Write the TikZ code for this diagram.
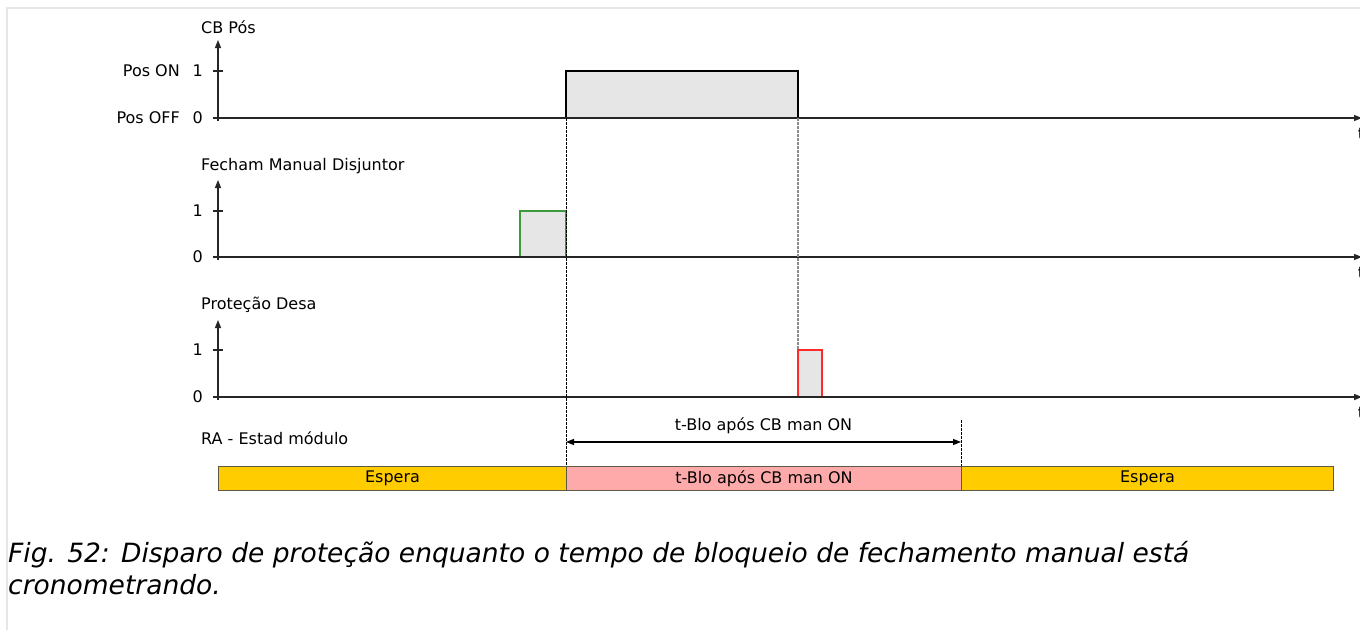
\documentclass[tikz,border=0pt]{standalone}
\usepackage{fontspec}
\setmainfont{DejaVu Sans}
\newfontfamily\capfont{DejaVu Sans Oblique}
\usetikzlibrary{arrows.meta}
\definecolor{frame}{HTML}{E6E6E6}
\definecolor{pulse}{HTML}{E6E6E6}
\definecolor{gpulse}{HTML}{3C9A3C}
\definecolor{rpulse}{HTML}{FF2A2A}
\definecolor{espera}{HTML}{FFCC00}
\definecolor{blo}{HTML}{FFAAAA}
\definecolor{barline}{HTML}{5F5A45}
\tikzset{
  axis/.style={draw=black!85, line width=1.3pt, -{Triangle[length=8pt,width=6pt]}},
  tick/.style={draw=black!85, line width=1.2pt},
  lbl/.style={font=\fontsize{16}{19}\selectfont, inner sep=0pt},
  sig/.style={lbl, anchor=west},
  guide/.style={draw=black, line width=0.8pt, dash pattern=on 2.5pt off 1.5pt},
  guidegray/.style={draw=black!45, line width=1.2pt, dash pattern=on 2.5pt off 1.5pt},
  statebar/.style={draw=barline, line width=1pt},
  dim/.style={draw=black, line width=1.2pt, {Triangle[length=8pt,width=6pt]}-{Triangle[length=8pt,width=6pt]}},
  captext/.style={anchor=base west, inner sep=0pt, font=\capfont\fontsize{26.5}{31}\selectfont},
}
\begin{document}
\begin{tikzpicture}[x=1pt,y=-1pt]
\useasboundingbox (0,0) rectangle (1360,630);
\fill[white] (0,0) rectangle (1360,630);
% frame
\draw[frame, line width=2pt] (7,630) -- (7,8) -- (1360,8);

% ---------- CB Pos ----------
\fill[pulse] (566,71) rectangle (798,118);
\draw[black, line width=1.2pt] (566,118) -- (566,71) -- (798,71) -- (798,118);
\coordinate (a1o) at (218,121);
\coordinate (a1t) at (218,40);
\coordinate (h1o) at (213,118);
\coordinate (h1e) at (1362,118);
\draw[axis] (a1o) -- (a1t);
\draw[axis] (h1o) -- (h1e);
\draw[tick] (213,71) -- (223,71);
\node[sig] (s1) at (201,27) {CB Pós};
\node[lbl, anchor=east] (p1) at (203,71) {1};
\node[lbl, anchor=east] (p0) at (203,118) {0};
\node[lbl, anchor=east] (pon) at (180,71) {Pos ON};
\node[lbl, anchor=east] (poff) at (180,118) {Pos OFF};
\node[lbl] (t1) at (1361,134) {t};

% ---------- Fecham Manual ----------
\fill[pulse] (520,211) rectangle (566,257);
\draw[gpulse, line width=1.2pt] (520,257) -- (520,211) -- (566,211) -- (566,257);
\coordinate (a2o) at (218,260);
\coordinate (a2t) at (218,180);
\coordinate (h2o) at (213,257);
\coordinate (h2e) at (1362,257);
\draw[axis] (a2o) -- (a2t);
\draw[axis] (h2o) -- (h2e);
\draw[tick] (213,211) -- (223,211);
\node[sig] (s2) at (201,166) {Fecham Manual Disjuntor};
\node[lbl, anchor=east] (q1) at (203,211) {1};
\node[lbl, anchor=east] (q0) at (203,257) {0};
\node[lbl] (t2) at (1361,273) {t};

% ---------- Protecao Desa ----------
\fill[pulse] (798,350) rectangle (822,397);
\draw[rpulse, line width=1.2pt] (798,397) rectangle (822,350);
\coordinate (a3o) at (218,400);
\coordinate (a3t) at (218,320);
\coordinate (h3o) at (213,397);
\coordinate (h3e) at (1362,397);
\draw[axis] (a3o) -- (a3t);
\draw[axis] (h3o) -- (h3e);
\draw[tick] (213,350) -- (223,350);
\node[sig] (s3) at (201,305) {Proteção Desa};
\node[lbl, anchor=east] (r1) at (203,350) {1};
\node[lbl, anchor=east] (r0) at (203,397) {0};
\node[lbl] (t3) at (1361,413) {t};

% ---------- guides ----------
\coordinate (g1a) at (566,118);
\coordinate (g1b) at (566,466);
\coordinate (g2a) at (798,118);
\coordinate (g2b) at (798,350);
\coordinate (g3a) at (961,420);
\coordinate (g3b) at (961,466);
\draw[guide] (g1a) -- (g1b);
\draw[guidegray] (g2a) -- (g2b);
\draw[guide] (g3a) -- (g3b);

% ---------- dimension ----------
\coordinate (d1) at (566,442);
\coordinate (d2) at (961,442);
\draw[dim] (d1) -- (d2);
\node[lbl] (dl) at (763.5,426) {t-Blo após CB man ON};
\node[sig] (s4) at (201,438) {RA - Estad módulo};

% ---------- state bar ----------
\node[statebar, fill=espera, minimum width=348pt, minimum height=24pt, anchor=north west, lbl] (b1) at (218,466) {Espera};
\node[statebar, fill=blo, minimum width=395pt, minimum height=24pt, anchor=north west, lbl] (b2) at (566,466) {t-Blo após CB man ON};
\node[statebar, fill=espera, minimum width=372pt, minimum height=24pt, anchor=north west, lbl] (b3) at (961,466) {Espera};

% ---------- caption ----------
\node[captext] (c1) at (8,562) {Fig. 52: Disparo de proteção enquanto o tempo de bloqueio de fechamento manual está};
\node[captext] (c2) at (8,594) {cronometrando.};
\end{tikzpicture}
\end{document}
